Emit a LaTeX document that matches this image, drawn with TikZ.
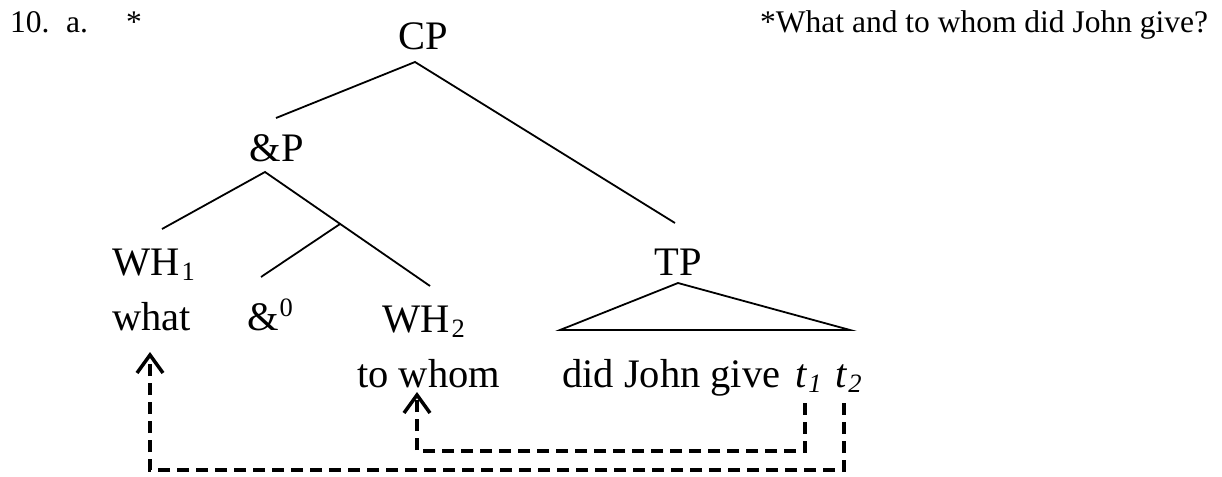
\documentclass[tikz,border=0pt]{standalone}
\usepackage{fontspec}
\setmainfont{Liberation Serif}
\usetikzlibrary{arrows.meta}
\newcommand\treefont{\fontsize{40.5}{48}\selectfont}
\newcommand\notefont{\fontsize{31.5}{36}\selectfont}
\newcommand\idxfont{\fontsize{26.5}{32}\selectfont}
\newcommand\lowidx[1]{\kern2pt\raisebox{-5pt}{\idxfont #1}}
\newcommand\highidx[1]{\kern1pt\raisebox{14pt}{\idxfont #1}}
\begin{document}
\begin{tikzpicture}[x=1pt,y=-1pt,
  lab/.style={inner sep=0pt, font=\treefont, anchor=base},
  labw/.style={lab, anchor=base west},
  note/.style={inner sep=0pt, font=\notefont, anchor=base west},
  branch/.style={line width=1.8pt},
  trace/.style={line width=3.5pt, dash pattern=on 12pt off 7pt,
    line join=miter},
  tracetip/.style={trace, -{Straight Barb[length=18pt,width=26pt,line width=3.5pt]}}]
\useasboundingbox (0,0) rectangle (1222,476);

% example number and gloss
\node[note] (num) at (10,33) {10.};
\node[note] (sub) at (66,33) {a.};
\node[note] (star) at (126,33) {*};
\node[note] (gloss) at (760,33) {*What and to whom did John give?};

% category labels
\node[lab] (CP) at (423,50) {CP};
\node[lab] (andP) at (277,161) {\&P};
\node[labw] (wh1) at (112,275) {WH\lowidx{1}};
\node[labw] (what) at (112,330) {what};
\node[labw] (and0) at (247,330) {\&\highidx{0}};
\node[labw] (wh2) at (382,332) {WH\lowidx{2}};
\node[labw] (whom) at (357,387) {to whom};
\node[lab] (TP) at (678,275) {TP};
\node[labw] (rest) at (562,387) {did John give};
\node[labw] (t1) at (795,387) {\textit{t}\kern1pt\raisebox{-5pt}{\idxfont\itshape 1}};
\node[labw] (t2) at (835,387) {\textit{t}\kern1pt\raisebox{-5pt}{\idxfont\itshape 2}};

% branch end points
\coordinate (cpfoot) at (415,62);
\coordinate (andPtop) at (276,118);
\coordinate (tptop) at (675,223);
\coordinate (andPfoot) at (265,172);
\coordinate (wh1top) at (162,229);
\coordinate (wh2top) at (430,286);
\coordinate (andbar) at (340,224);
\coordinate (and0top) at (261,277);
\coordinate (tpapex) at (678,283);
\coordinate (tpleft) at (560,330);
\coordinate (tpright) at (850,330);

\draw[branch] (andPtop) -- (cpfoot) -- (tptop);
\draw[branch] (wh1top) -- (andPfoot) -- (wh2top);
\draw[branch] (andbar) -- (and0top);
\draw[branch, line join=miter] (tpleft) -- (tpapex) -- (tpright) -- cycle;

% movement traces
\coordinate (t1foot) at (805,403);
\coordinate (t2foot) at (844,403);
\coordinate (whomhook) at (417,392);
\coordinate (whathook) at (150,352);
\draw[tracetip] (t1foot) -- (805,451) -- (417,451) -- (whomhook);
\draw[tracetip] (t2foot) -- (844,470) -- (150,470) -- (whathook);
\end{tikzpicture}
\end{document}
